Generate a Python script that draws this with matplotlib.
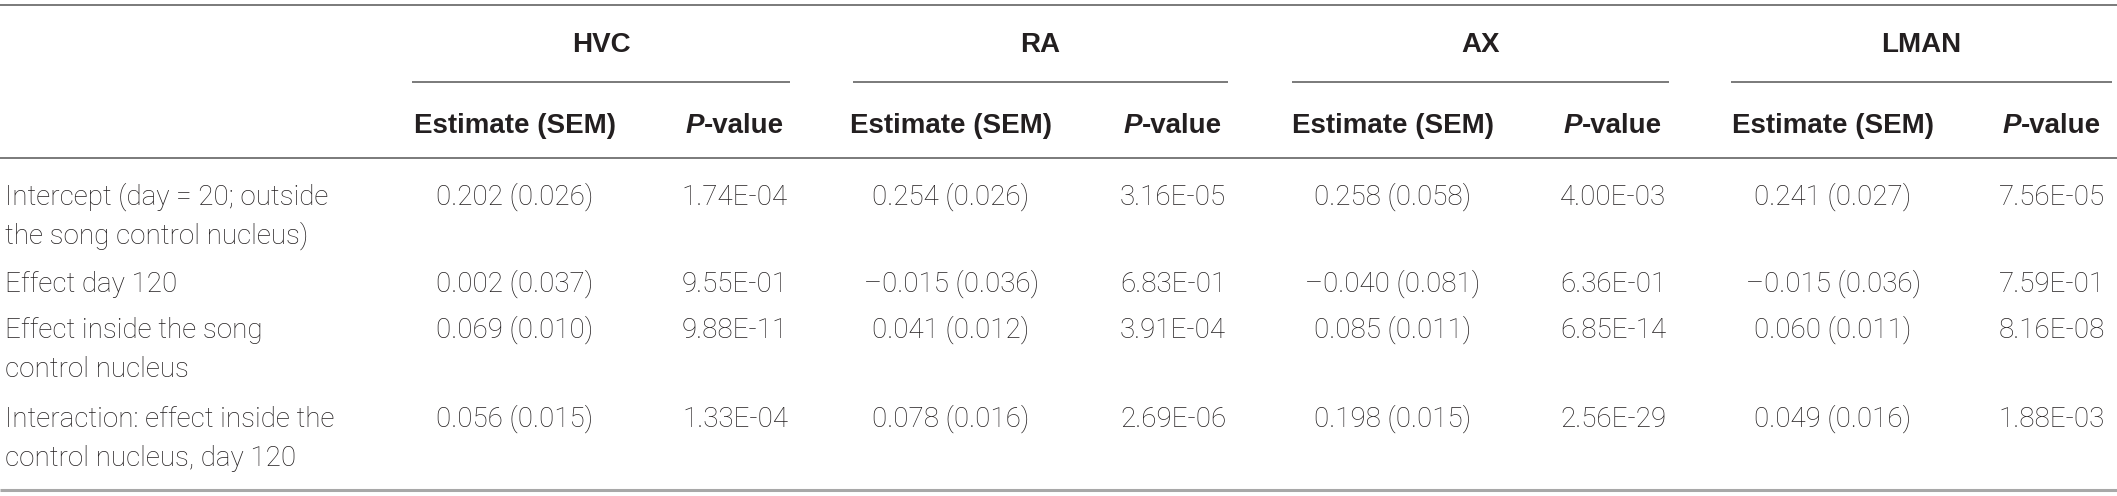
import matplotlib
matplotlib.use("Agg")
import matplotlib.pyplot as plt

# table content
groups = ["HVC", "RA", "AX", "LMAN"]
row_labels = [
    ["Intercept (day = 20; outside", "the song control nucleus)"],
    ["Effect day 120"],
    ["Effect inside the song", "control nucleus"],
    ["Interaction: effect inside the", "control nucleus, day 120"],
]
estimates = [
    ["0.202 (0.026)", "0.254 (0.026)", "0.258 (0.058)", "0.241 (0.027)"],
    ["0.002 (0.037)", "\u20130.015 (0.036)", "\u20130.040 (0.081)", "\u20130.015 (0.036)"],
    ["0.069 (0.010)", "0.041 (0.012)", "0.085 (0.011)", "0.060 (0.011)"],
    ["0.056 (0.015)", "0.078 (0.016)", "0.198 (0.015)", "0.049 (0.016)"],
]
pvalues = [
    ["1.74E-04", "3.16E-05", "4.00E-03", "7.56E-05"],
    ["9.55E-01", "6.83E-01", "6.36E-01", "7.59E-01"],
    ["9.88E-11", "3.91E-04", "6.85E-14", "8.16E-08"],
    ["1.33E-04", "2.69E-06", "2.56E-29", "1.88E-03"],
]

# layout (pixels)
W, H = 2117, 496
est_x = [515, 951, 1393, 1833]
p_x = [735, 1173, 1613, 2052]
group_lines = [(412, 790), (853, 1228), (1292, 1669), (1731, 2112)]
row_base = [205, 292, 338, 427]
line_gap = 39

txt_color = "#231f20"
rule_color = "#7a7a7a"
body = dict(family=["Roboto", "DejaVu Sans"], fontweight="light", fontsize=20, color=txt_color)
head = dict(family=["Liberation Sans", "DejaVu Sans"], fontweight="bold", fontsize=20, color=txt_color)

fig = plt.figure(figsize=(W / 100, H / 100), dpi=100)
ax = fig.add_axes([0, 0, 1, 1])
ax.set_xlim(0, W)
ax.set_ylim(H, 0)
ax.axis("off")

# rules
ax.plot([0, W], [5, 5], color=rule_color, lw=1.4, solid_capstyle="butt")
ax.plot([0, W], [158, 158], color=rule_color, lw=1.4, solid_capstyle="butt")
ax.plot([0, W], [490, 490], color="#a8a8a8", lw=2.2, solid_capstyle="butt")
for (x0, x1) in group_lines:
    ax.plot([x0, x1], [82, 82], color=rule_color, lw=1.4, solid_capstyle="butt")

# group headers
for g, (x0, x1) in zip(groups, group_lines):
    ax.text((x0 + x1) / 2, 52, g, ha="center", va="baseline", **head)

# sub headers
fig.canvas.draw()
renderer = fig.canvas.get_renderer()
inv = ax.transData.inverted()
for xe, xp in zip(est_x, p_x):
    ax.text(xe, 133, "Estimate (SEM)", ha="center", va="baseline", **head)
    t1 = ax.text(0, 133, "P", ha="left", va="baseline", fontstyle="italic", **head)
    t2 = ax.text(0, 133, "-value", ha="left", va="baseline", **head)
    b1 = t1.get_window_extent(renderer)
    b2 = t2.get_window_extent(renderer)
    w1 = inv.transform((b1.x1, 0))[0] - inv.transform((b1.x0, 0))[0]
    w2 = inv.transform((b2.x1, 0))[0] - inv.transform((b2.x0, 0))[0]
    start = xp - (w1 + w2) / 2
    t1.set_x(start)
    t2.set_x(start + w1)

# body rows
for i, lines in enumerate(row_labels):
    for k, line in enumerate(lines):
        ax.text(5, row_base[i] + k * line_gap, line, ha="left", va="baseline", **body)
    for j in range(4):
        ax.text(est_x[j], row_base[i], estimates[i][j], ha="center", va="baseline", **body)
        ax.text(p_x[j], row_base[i], pvalues[i][j], ha="center", va="baseline", **body)

fig.savefig("out.png", dpi=100)
